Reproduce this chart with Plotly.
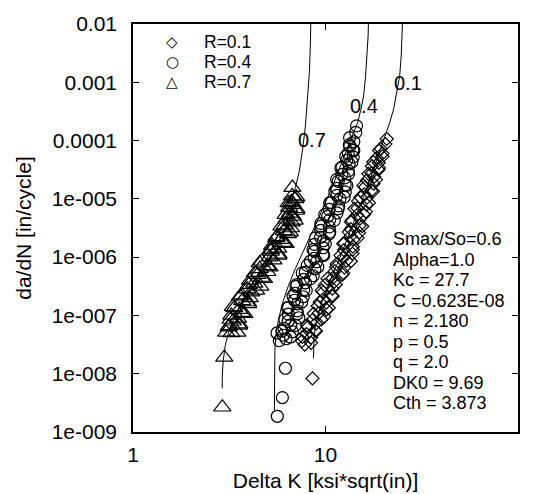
import plotly.graph_objects as go

# ---------------- data ----------------
# Measured data, R = 0.7 (triangles)
R07_dk = [2.91, 2.98, 3.05, 3.16, 3.25, 3.48, 3.14, 3.57, 3.30, 3.51, 3.24, 3.68, 3.56, 3.30, 3.96, 3.69,
          4.04, 3.67, 4.11, 3.92, 4.59, 4.27, 4.06, 4.66, 4.44, 4.98, 4.55, 4.99, 4.55, 5.36, 5.12, 5.71,
          5.20, 5.68, 5.28, 6.04, 5.87, 5.58, 6.38, 6.07, 6.62, 6.15, 6.67, 6.27, 6.78, 6.52, 7.03, 6.47,
          6.81, 6.65, 6.97, 6.71, 6.73,
          3.55, 3.21, 3.79, 3.36, 3.95, 3.60, 4.36, 4.00, 4.79, 4.30, 5.12, 4.67, 5.68, 5.20, 6.21, 5.55,
          6.53, 5.90, 6.92, 6.21, 7.06, 6.43, 7.05]
R07_dadn = [2.66e-9, 1.9e-8, 5.1e-8, 6.6e-8, 5.0e-8, 5.1e-8, 6.31e-8, 7.08e-8, 7.94e-8, 8.91e-8, 1.0e-7,
            1.12e-7, 1.26e-7, 1.41e-7, 1.58e-7, 1.78e-7, 2.0e-7, 2.24e-7, 2.51e-7, 2.82e-7, 3.16e-7, 3.55e-7,
            3.98e-7, 4.47e-7, 5.01e-7, 5.62e-7, 6.31e-7, 7.08e-7, 7.94e-7, 8.91e-7, 1.0e-6, 1.12e-6, 1.26e-6,
            1.41e-6, 1.58e-6, 1.78e-6, 2.0e-6, 2.24e-6, 2.51e-6, 2.82e-6, 3.16e-6, 3.55e-6, 3.98e-6, 4.47e-6,
            5.01e-6, 5.62e-6, 6.31e-6, 7.08e-6, 7.94e-6, 8.91e-6, 1.0e-5, 1.12e-5, 1.56e-5,
            6.76e-8, 8.51e-8, 1.07e-7, 1.35e-7, 1.70e-7, 2.14e-7, 2.69e-7, 3.39e-7, 4.27e-7, 5.37e-7,
            6.76e-7, 8.51e-7, 1.07e-6, 1.35e-6, 1.70e-6, 2.14e-6, 2.69e-6, 3.39e-6, 4.27e-6, 5.37e-6,
            6.76e-6, 8.51e-6, 1.07e-5]

# Measured data, R = 0.4 (circles)
R04_dk = [5.62, 5.97, 6.19, 5.60, 5.75, 6.24, 6.04, 6.73, 6.08, 6.61, 6.40, 7.27, 6.41, 7.13, 6.43, 7.14,
          6.90, 7.67, 6.93, 7.71, 7.03, 7.87, 7.69, 8.63, 7.85, 8.81, 8.04, 8.99, 8.73, 9.70, 8.75, 9.72,
          8.77, 9.75, 9.42, 10.45, 9.44, 10.47, 9.46, 10.52, 10.26, 11.48, 10.45, 11.72, 10.67, 11.89,
          11.46, 12.68, 11.43, 12.65, 11.64, 12.59, 12.16, 13.15, 12.19, 13.27, 12.88, 13.93, 13.12, 13.87,
          13.37, 14.03, 13.34, 14.35, 14.5,
          6.58, 5.94, 6.98, 6.15, 7.13, 6.34, 7.53, 6.78, 7.94, 7.10, 8.37, 7.57, 9.12, 8.34, 9.79, 8.61,
          9.98, 8.87, 10.52, 9.46, 11.10, 9.91, 11.64, 10.51, 12.50, 11.19, 12.91, 11.43, 13.18, 12.02,
          13.71, 12.74, 14.03, 13.30]
R04_dadn = [1.86e-9, 3.9e-9, 1.24e-8, 5.0e-8, 3.7e-8, 3.98e-8, 4.57e-8, 5.25e-8, 6.03e-8, 6.92e-8, 7.94e-8,
            9.12e-8, 1.05e-7, 1.20e-7, 1.38e-7, 1.58e-7, 1.82e-7, 2.09e-7, 2.40e-7, 2.75e-7, 3.16e-7,
            3.63e-7, 4.17e-7, 4.79e-7, 5.50e-7, 6.31e-7, 7.24e-7, 8.32e-7, 9.55e-7, 1.10e-6, 1.26e-6,
            1.45e-6, 1.66e-6, 1.91e-6, 2.19e-6, 2.51e-6, 2.88e-6, 3.31e-6, 3.80e-6, 4.37e-6, 5.01e-6,
            5.75e-6, 6.61e-6, 7.59e-6, 8.71e-6, 1.0e-5, 1.15e-5, 1.32e-5, 1.51e-5, 1.74e-5, 2.0e-5, 2.29e-5,
            2.63e-5, 3.02e-5, 3.47e-5, 3.98e-5, 4.57e-5, 5.25e-5, 6.03e-5, 6.92e-5, 7.94e-5, 9.55e-5,
            1.12e-4, 1.38e-4, 1.79e-4,
            4.27e-8, 5.37e-8, 6.76e-8, 8.51e-8, 1.07e-7, 1.35e-7, 1.70e-7, 2.14e-7, 2.69e-7, 3.39e-7,
            4.27e-7, 5.37e-7, 6.76e-7, 8.51e-7, 1.07e-6, 1.35e-6, 1.70e-6, 2.14e-6, 2.69e-6, 3.39e-6,
            4.27e-6, 5.37e-6, 6.76e-6, 8.51e-6, 1.07e-5, 1.35e-5, 1.70e-5, 2.14e-5, 2.69e-5, 3.39e-5,
            4.27e-5, 5.37e-5, 6.76e-5, 8.51e-5]

# Measured data, R = 0.1 (diamonds)
R01_dk = [8.56, 7.80, 7.55, 8.41, 7.96, 8.85, 8.09, 8.91, 8.55, 9.84, 9.23, 10.12, 9.10, 10.09, 9.75, 10.79,
          9.72, 10.86, 9.91, 11.14, 10.89, 12.25, 11.17, 12.53, 11.43, 12.85, 12.45, 13.80, 12.47, 13.87,
          12.53, 13.93, 13.49, 14.96, 13.52, 15.03, 13.58, 15.10, 14.59, 16.22, 14.66, 16.33, 14.76, 16.41,
          15.89, 17.30, 16.00, 17.78, 16.44, 17.91, 17.34, 18.84, 17.42, 18.92, 18.45, 19.77, 19.32, 20.46,
          20.8,
          8.41, 7.59, 8.93, 8.02, 9.51, 8.67, 10.41, 9.33, 10.91, 9.55, 11.30, 10.23, 12.36, 11.35, 13.55,
          11.95, 13.87, 12.36, 14.69, 13.21, 15.52, 13.68, 15.85, 14.13, 16.83, 15.17, 17.66, 15.74, 18.28,
          16.71, 18.97, 17.70, 19.75, 18.97]
R01_dadn = [8.3e-9, 3.16e-8, 3.63e-8, 4.17e-8, 4.79e-8, 5.50e-8, 6.31e-8, 7.24e-8, 8.32e-8, 9.55e-8, 1.10e-7,
            1.26e-7, 1.45e-7, 1.66e-7, 1.91e-7, 2.19e-7, 2.51e-7, 2.88e-7, 3.31e-7, 3.80e-7, 4.37e-7,
            5.01e-7, 5.75e-7, 6.61e-7, 7.59e-7, 8.71e-7, 1.0e-6, 1.15e-6, 1.32e-6, 1.51e-6, 1.74e-6, 2.0e-6,
            2.29e-6, 2.63e-6, 3.02e-6, 3.47e-6, 3.98e-6, 4.57e-6, 5.25e-6, 6.03e-6, 6.92e-6, 7.94e-6,
            9.12e-6, 1.05e-5, 1.20e-5, 1.38e-5, 1.58e-5, 1.82e-5, 2.09e-5, 2.40e-5, 2.75e-5, 3.16e-5,
            3.63e-5, 4.17e-5, 5.01e-5, 6.03e-5, 7.24e-5, 8.71e-5, 1.07e-4,
            3.39e-8, 4.27e-8, 5.37e-8, 6.76e-8, 8.51e-8, 1.07e-7, 1.35e-7, 1.70e-7, 2.14e-7, 2.69e-7,
            3.39e-7, 4.27e-7, 5.37e-7, 6.76e-7, 8.51e-7, 1.07e-6, 1.35e-6, 1.70e-6, 2.14e-6, 2.69e-6,
            3.39e-6, 4.27e-6, 5.37e-6, 6.76e-6, 8.51e-6, 1.07e-5, 1.35e-5, 1.70e-5, 2.14e-5, 2.69e-5,
            3.39e-5, 4.27e-5, 5.37e-5, 6.76e-5]

# Model curves
C07_dk = [2.909, 2.909, 2.943, 3.015, 3.125, 3.279, 3.565, 3.972, 4.479, 4.986, 5.491, 6.04, 6.494, 6.978,
          7.321, 7.589, 7.867, 8.058, 8.254, 8.354, 8.40]
C07_dadn = [5.62e-9, 9.4e-9, 1.69e-8, 3.06e-8, 4.92e-8, 7.59e-8, 1.37e-7, 2.68e-7, 5.24e-7, 9.84e-7, 1.92e-6,
            3.76e-6, 7.65e-6, 1.56e-5, 3.04e-5, 6.68e-5, 1.79e-4, 4.8e-4, 1.57e-3, 5.1e-3, 1.37e-2]

C04_dk = [5.425, 5.425, 5.425, 5.458, 5.523, 5.691, 5.971, 6.419, 6.978, 7.589, 8.354, 9.194, 10.12, 11.01,
          11.97, 13.02, 13.99, 14.68, 15.22, 15.78, 16.16, 16.45, 16.65, 16.75]
C04_dadn = [2.36e-9, 5.2e-9, 1.14e-8, 2.52e-8, 4.55e-8, 8.2e-8, 1.60e-7, 3.26e-7, 6.38e-7, 1.20e-6, 2.34e-6,
            4.58e-6, 9.31e-6, 1.82e-5, 3.70e-5, 7.24e-5, 1.31e-4, 2.02e-4, 3.24e-4, 5.85e-4, 1.29e-3,
            2.83e-3, 6.23e-3, 1.37e-2]

C01_dk = [8.660, 8.660, 8.712, 8.870, 9.194, 9.647, 10.24, 11.01, 11.83, 12.71, 13.66, 14.68, 15.78, 16.95,
          18.21, 19.34, 20.54, 21.54, 22.61, 23.43, 24.29, 24.73, 25.03, 25.18]
C01_dadn = [1.84e-8, 2.72e-8, 4.04e-8, 6.74e-8, 1.12e-7, 1.81e-7, 3.01e-7, 5.45e-7, 9.46e-7, 1.71e-6, 3.09e-6,
            5.81e-6, 1.09e-5, 2.05e-5, 4.01e-5, 7.24e-5, 1.21e-4, 2.02e-4, 3.51e-4, 6.33e-4, 1.29e-3,
            2.83e-3, 6.23e-3, 1.37e-2]

curve_labels = ["0.7", "0.4", "0.1"]
legend_labels = ["R=0.1", "R=0.4", "R=0.7"]
legend_glyphs = ["\u25C7", "\u25CB", "\u25B3"]
param_lines = ["Smax/So=0.6", "Alpha=1.0", "Kc = 27.7", "C =0.623E-08", "n = 2.180",
               "p = 0.5", "q = 2.0", "DK0 = 9.69", "Cth = 3.873"]

x_tickvals = [1, 10, 100]
x_ticktext = ["1", "10", "100"]
y_tickvals = [1e-9, 1e-8, 1e-7, 1e-6, 1e-5, 1e-4, 1e-3, 1e-2]
y_ticktext = ["1e-009", "1e-008", "1e-007", "1e-006", "1e-005", "0.0001", "0.001", "0.01"]

# ---------------- figure ----------------
FONT = "Liberation Sans, Arial, sans-serif"
fig = go.Figure()

for dk, dadn, nm in [(C07_dk, C07_dadn, "model R=0.7"), (C04_dk, C04_dadn, "model R=0.4"),
                     (C01_dk, C01_dadn, "model R=0.1")]:
    fig.add_trace(go.Scatter(x=dk, y=dadn, mode="lines", name=nm,
                             line=dict(color="black", width=1), showlegend=False))

fig.add_trace(go.Scatter(x=R01_dk, y=R01_dadn, mode="markers", name=legend_labels[0],
                         marker=dict(symbol="diamond-open", size=10, color="black", line=dict(width=1.2))))
fig.add_trace(go.Scatter(x=R04_dk, y=R04_dadn, mode="markers", name=legend_labels[1],
                         marker=dict(symbol="circle-open", size=12, color="black", line=dict(width=1.2))))
fig.add_trace(go.Scatter(x=R07_dk, y=R07_dadn, mode="markers", name=legend_labels[2],
                         marker=dict(symbol="triangle-up-open", size=15, color="black", line=dict(width=1.2))))

# plot area in pixels: left 133, right 518, top 24, bottom 432
PL, PR, PT, PB = 133, 518, 24, 432


def px2paper(px, py):
    return (px - PL) / (PR - PL), (PB - py) / (PB - PT)


annotations = []
# curve labels
for txt, (px, py) in zip(curve_labels, [(312, 140), (364, 106), (408, 83)]):
    xp, yp = px2paper(px, py)
    annotations.append(dict(text=txt, x=xp, y=yp, xref="paper", yref="paper", showarrow=False,
                            xanchor="center", yanchor="middle", font=dict(family=FONT, size=20)))
# legend
for i, (g, lab) in enumerate(zip(legend_glyphs, legend_labels)):
    py = 42 + 20 * i
    xp, yp = px2paper(172, py)
    annotations.append(dict(text=g, x=xp, y=yp, xref="paper", yref="paper", showarrow=False,
                            xanchor="center", yanchor="middle",
                            font=dict(family="DejaVu Sans", size=15)))
    xp, yp = px2paper(202, py)
    annotations.append(dict(text=lab, x=xp, y=yp, xref="paper", yref="paper", showarrow=False,
                            xanchor="left", yanchor="middle", font=dict(family=FONT, size=17.5)))
# parameters block
for i, line in enumerate(param_lines):
    py = 239 + 20.5 * i
    xp, yp = px2paper(391, py)
    annotations.append(dict(text=line, x=xp, y=yp, xref="paper", yref="paper", showarrow=False,
                            xanchor="left", yanchor="middle", font=dict(family=FONT, size=18)))

fig.update_layout(
    width=535, height=494,
    margin=dict(l=PL, r=535 - PR, t=PT, b=494 - PB, autoexpand=False),
    paper_bgcolor="white", plot_bgcolor="white",
    showlegend=False,
    font=dict(family=FONT, size=21, color="black"),
    annotations=annotations,
)
fig.update_xaxes(type="log", range=[0, 2], tickvals=x_tickvals, ticktext=x_ticktext,
                 ticks="inside", ticklen=6, tickwidth=1, tickcolor="black",
                 showline=True, linecolor="black", linewidth=1.5, mirror="ticks",
                 showgrid=False, zeroline=False, ticklabelstandoff=3, automargin=False,
                 tickfont=dict(family=FONT, size=21),
                 title=dict(text="Delta K [ksi*sqrt(in)]", standoff=8, font=dict(family=FONT, size=21)))
fig.update_yaxes(type="log", range=[-9, -2], tickvals=y_tickvals, ticktext=y_ticktext,
                 ticks="inside", ticklen=6, tickwidth=1, tickcolor="black",
                 showline=True, linecolor="black", linewidth=1.5, mirror="ticks",
                 showgrid=False, zeroline=False, ticklabelstandoff=10, automargin=False,
                 tickfont=dict(family=FONT, size=21),
                 title=dict(text="da/dN [in/cycle]", standoff=14, font=dict(family=FONT, size=21)))

fig.write_html("out.html")
